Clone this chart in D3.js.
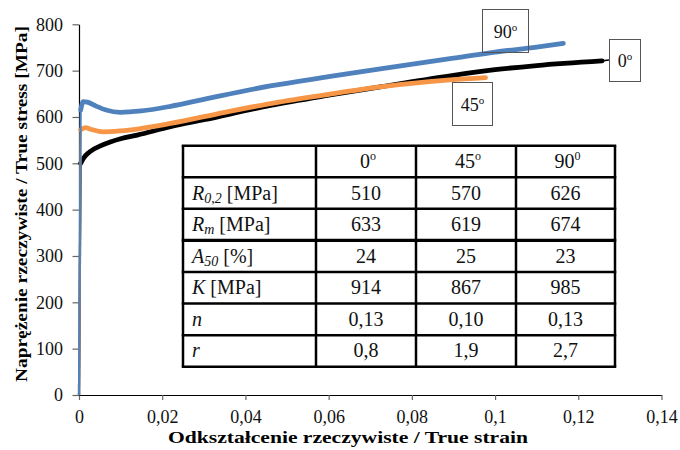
<!DOCTYPE html>
<html>
<head>
<meta charset="utf-8">
<script src="https://cdn.jsdelivr.net/npm/d3@7"></script>
<style>
  body { margin: 0; background: #fff; }
  svg { display: block; }
  svg text { font-family: "Liberation Serif", "DejaVu Serif", "Noto Serif", "Times New Roman", Times, serif !important; }
</style>
</head>
<body>
<div id="chart"></div>
<script>
// curves (strain, true stress MPa)
const strain0 = [0, 0.0004, 0.001, 0.0026, 0.005, 0.0075, 0.01, 0.014, 0.022, 0.03, 0.046, 0.06, 0.0724, 0.09, 0.1, 0.11, 0.1257];
const stress0 = [0, 500, 510, 525, 537, 546, 553, 561, 579, 594, 625, 647, 665, 690, 702, 711, 721];

const strain45 = [0, 0.0004, 0.0015, 0.003, 0.0058, 0.01, 0.022, 0.035, 0.048, 0.06, 0.0724, 0.0892, 0.0977];
const stress45 = [0, 572, 577, 573, 568, 570, 586, 610, 632, 649, 665, 680, 685];

const strain90 = [0, 0.0004, 0.001, 0.002, 0.004, 0.0065, 0.0099, 0.015, 0.022, 0.03, 0.046, 0.06, 0.0724, 0.09, 0.1, 0.11, 0.1164];
const stress90 = [0, 615, 633, 632, 624, 615, 610, 613, 623, 638, 667, 687, 704, 727, 740, 751, 759];

const xTicks = [0, 0.02, 0.04, 0.06, 0.08, 0.1, 0.12, 0.14];
const xTickLabels = ["0", "0,02", "0,04", "0,06", "0,08", "0,1", "0,12", "0,14"];
const yTicks = [0, 100, 200, 300, 400, 500, 600, 700, 800];

// table
const headerMain = ["0", "45", "90"];
const headerSup = ["o", "o", "0"];
const rowLabels = [
    [["R", "it"], ["0,2", "sub"], [" [MPa]", ""]],
    [["R", "it"], ["m", "sub"], [" [MPa]", ""]],
    [["A", "it"], ["50", "sub"], [" [%]", ""]],
    [["K", "it"], [" [MPa]", ""]],
    [["n", "it"]],
    [["r", "it"]]
];
const values0 = ["510", "633", "24", "914", "0,13", "0,8"];
const values45 = ["570", "619", "25", "867", "0,10", "1,9"];
const values90 = ["626", "674", "23", "985", "0,13", "2,7"];

const width = 680, height = 450;

const svg = d3.select("#chart").append("svg")
    .attr("width", width)
    .attr("height", height);

const x = d3.scaleLinear().domain([0, 0.14]).range([79, 661.5]);
const y = d3.scaleLinear().domain([0, 800]).range([395, 24.3]);

// axes
const gx = svg.append("g")
    .attr("transform", `translate(0,${y(0)})`)
    .call(d3.axisBottom(x)
        .tickValues(xTicks)
        .tickFormat((d, i) => xTickLabels[i])
        .tickSizeInner(5)
        .tickSizeOuter(0)
        .tickPadding(10));

const gy = svg.append("g")
    .attr("transform", `translate(${x(0)},0)`)
    .call(d3.axisLeft(y)
        .tickValues(yTicks)
        .tickSizeInner(6.5)
        .tickSizeOuter(0)
        .tickPadding(9.5));

[gx, gy].forEach(g => {
    g.attr("font-family", null);
    g.select(".domain").attr("stroke", "#000").attr("stroke-width", 1.2);
    g.selectAll(".tick line").attr("stroke", "#666").attr("stroke-width", 1.2);
    g.selectAll(".tick text")
        .attr("fill", "#111")
        .style("font-size", "18px");
});

// axis titles
svg.append("text")
    .attr("x", 348)
    .attr("y", 443)
    .attr("text-anchor", "middle")
    .attr("textLength", 360)
    .attr("lengthAdjust", "spacingAndGlyphs")
    .style("font-size", "16px")
    .style("font-weight", "bold")
    .text("Odkształcenie rzeczywiste / True strain");

svg.append("text")
    .attr("transform", "translate(27,204) rotate(-90)")
    .attr("text-anchor", "middle")
    .attr("textLength", 356)
    .attr("lengthAdjust", "spacingAndGlyphs")
    .style("font-size", "16px")
    .style("font-weight", "bold")
    .text("Naprężenie rzeczywiste / True stress [MPa]");

// curves
const series = [
    { strain: strain0, stress: stress0, color: "#000000" },
    { strain: strain45, stress: stress45, color: "#F79646" },
    { strain: strain90, stress: stress90, color: "#4F81BD" }
];

const line = d3.line()
    .x(d => x(d[0]))
    .y(d => y(d[1]))
    .curve(d3.curveMonotoneX);

series.forEach(s => {
    const pts = d3.zip(s.strain, s.stress);
    // elastic part
    svg.append("path")
        .datum(pts.slice(0, 2))
        .attr("d", d3.line().x(d => x(d[0])).y(d => y(d[1])))
        .attr("fill", "none")
        .attr("stroke", s.color)
        .attr("stroke-width", 2.2);
    // plastic part
    svg.append("path")
        .datum(pts.slice(1))
        .attr("d", line)
        .attr("fill", "none")
        .attr("stroke", s.color)
        .attr("stroke-width", 4.8)
        .attr("stroke-linecap", "round")
        .attr("stroke-linejoin", "round");
});

// curve labels
const labelBoxes = [
    { text: "0", sup: "o", x: 609, y: 39, w: 31, h: 42 },
    { text: "45", sup: "o", x: 452, y: 82, w: 40, h: 43 },
    { text: "90", sup: "o", x: 482, y: 9, w: 46, h: 43 }
];

// leader from end of the 0° curve to its box
svg.append("line")
    .attr("x1", x(strain0[strain0.length - 1]))
    .attr("y1", y(stress0[stress0.length - 1]))
    .attr("x2", 609)
    .attr("y2", 60)
    .attr("stroke", "#000")
    .attr("stroke-width", 1.6);

labelBoxes.forEach(b => {
    svg.append("rect")
        .attr("x", b.x + 0.5)
        .attr("y", b.y + 0.5)
        .attr("width", b.w)
        .attr("height", b.h)
        .attr("fill", "none")
        .attr("stroke", "#555")
        .attr("stroke-width", 1);
    const t = svg.append("text")
        .attr("x", b.x + b.w / 2 + 0.5)
        .attr("y", b.y + b.h / 2 + 7)
        .attr("text-anchor", "middle")
        .style("font-size", "18px")
        .attr("fill", "#111");
    t.append("tspan").text(b.text);
    t.append("tspan").attr("dy", -7).style("font-size", "11px").text(b.sup);
});

// table
const colX = [183, 316, 416, 516, 615];
const tableTop = 145.7, tableBottom = 366.7;
const nRows = rowLabels.length + 1;
const rowY = d3.scaleLinear().domain([0, nRows]).range([tableTop, tableBottom]);

const table = svg.append("g");

table.append("rect")
    .attr("x", colX[0])
    .attr("y", tableTop)
    .attr("width", colX[4] - colX[0])
    .attr("height", tableBottom - tableTop)
    .attr("fill", "#fff");

d3.range(nRows + 1).forEach(i => {
    table.append("line")
        .attr("x1", colX[0] - 1.25)
        .attr("x2", colX[4] + 1.25)
        .attr("y1", rowY(i))
        .attr("y2", rowY(i))
        .attr("stroke", "#000")
        .attr("stroke-width", i === 3 ? 3.4 : 2.5);
});

colX.forEach(cx => {
    table.append("line")
        .attr("x1", cx)
        .attr("x2", cx)
        .attr("y1", tableTop)
        .attr("y2", tableBottom)
        .attr("stroke", "#000")
        .attr("stroke-width", 2.5);
});

const cellBase = i => (rowY(i) + rowY(i + 1)) / 2 + 6.5;

// header row
headerMain.forEach((h, j) => {
    const t = table.append("text")
        .attr("x", (colX[j + 1] + colX[j + 2]) / 2 + 2)
        .attr("y", cellBase(0))
        .attr("text-anchor", "middle")
        .style("font-size", "20px")
        .attr("fill", "#111");
    t.append("tspan").text(h);
    t.append("tspan").attr("dy", -8).style("font-size", "12px").text(headerSup[j]);
});

// row labels
rowLabels.forEach((parts, i) => {
    const t = table.append("text")
        .attr("x", colX[0] + 9)
        .attr("y", cellBase(i + 1))
        .style("font-size", "20px")
        .attr("fill", "#111");
    let shifted = false;
    parts.forEach(([txt, kind]) => {
        const ts = t.append("tspan").text(txt);
        if (kind === "it") ts.style("font-style", "italic");
        if (kind === "sub") {
            ts.style("font-style", "italic").style("font-size", "14px").attr("dy", 3);
            shifted = true;
        } else if (shifted) {
            ts.attr("dy", -3);
            shifted = false;
        }
    });
});

// values
[values0, values45, values90].forEach((vals, j) => {
    vals.forEach((v, i) => {
        table.append("text")
            .attr("x", (colX[j + 1] + colX[j + 2]) / 2)
            .attr("y", cellBase(i + 1))
            .attr("text-anchor", "middle")
            .style("font-size", "20px")
            .attr("fill", "#111")
            .text(v);
    });
});
</script>
</body>
</html>
